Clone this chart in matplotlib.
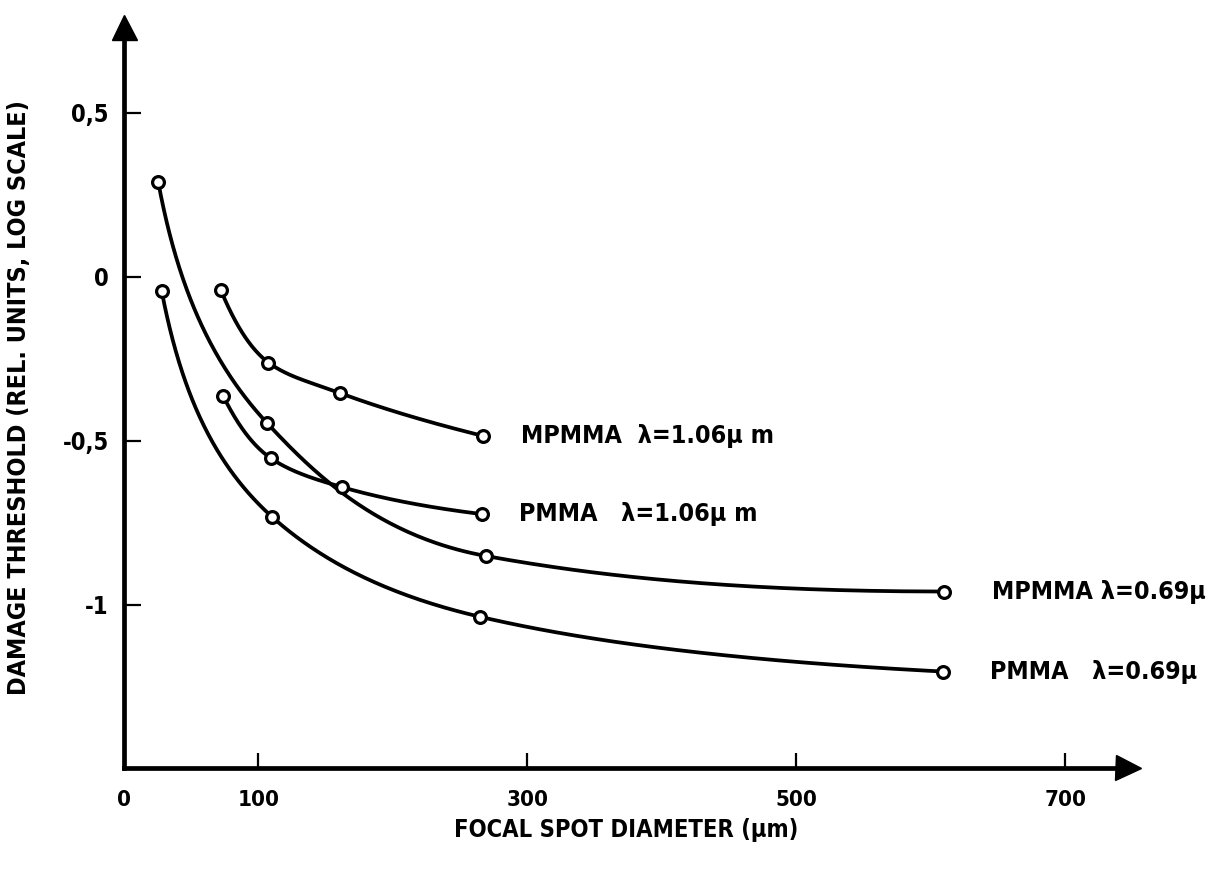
import numpy as np
import matplotlib
matplotlib.use("Agg")
import matplotlib.pyplot as plt

# ---- data ----
x_mpmma_069 = [25.5, 106.5, 269.5, 610.0]
y_mpmma_069 = [0.289, -0.446, -0.851, -0.959]

x_pmma_069 = [28.0, 110.0, 264.7, 609.0]
y_pmma_069 = [-0.042, -0.731, -1.036, -1.203]

x_mpmma_106 = [72.0, 107.4, 160.6, 267.3]
y_mpmma_106 = [-0.040, -0.261, -0.354, -0.485]

x_pmma_106 = [73.8, 109.3, 162.3, 266.0]
y_pmma_106 = [-0.363, -0.553, -0.641, -0.723]

series_labels = ["MPMMA  λ=1.06μ m", "PMMA   λ=1.06μ m",
                 "MPMMA λ=0.69μ", "PMMA   λ=0.69μ"]

x_ticks = [0, 100, 300, 500, 700]
x_ticklabels = ["0", "100", "300", "500", "700"]
y_ticks = [0.5, 0, -0.5, -1]
y_ticklabels = ["0,5", "0", "-0,5", "-1"]

x_label = "FOCAL SPOT DIAMETER (μm)"
y_label = "DAMAGE THRESHOLD (REL. UNITS, LOG SCALE)"


def pchip(x, y, n=300):
    """Smooth monotone cubic curve through the measured points (for drawing)."""
    x = np.asarray(x, float)
    y = np.asarray(y, float)
    h = np.diff(x)
    d = np.diff(y) / h
    m = np.zeros_like(y)
    for k in range(1, len(x) - 1):
        if d[k - 1] * d[k] > 0:
            w1 = 2 * h[k] + h[k - 1]
            w2 = h[k] + 2 * h[k - 1]
            m[k] = (w1 + w2) / (w1 / d[k - 1] + w2 / d[k])
    def end(h0, h1, d0, d1):
        v = ((2 * h0 + h1) * d0 - h0 * d1) / (h0 + h1)
        if np.sign(v) != np.sign(d0):
            v = 0.0
        elif np.sign(d0) != np.sign(d1) and abs(v) > abs(3 * d0):
            v = 3 * d0
        return v
    m[0] = end(h[0], h[1], d[0], d[1])
    m[-1] = end(h[-1], h[-2], d[-1], d[-2])
    xs = np.linspace(x[0], x[-1], n)
    idx = np.clip(np.searchsorted(x, xs) - 1, 0, len(x) - 2)
    t = (xs - x[idx]) / h[idx]
    h00 = 2 * t**3 - 3 * t**2 + 1
    h10 = t**3 - 2 * t**2 + t
    h01 = -2 * t**3 + 3 * t**2
    h11 = t**3 - t**2
    ys = h00 * y[idx] + h10 * h[idx] * m[idx] + h01 * y[idx + 1] + h11 * h[idx] * m[idx + 1]
    return xs, ys


font = dict(family="DejaVu Sans", weight="bold", stretch="condensed")

fig = plt.figure(figsize=(12.25, 8.73), dpi=100)
ax = fig.add_axes([0.1012, 0.1203, 0.8196, 0.8488])

series = [
    (x_mpmma_106, y_mpmma_106, series_labels[0], 27),
    (x_pmma_106, y_pmma_106, series_labels[1], 27),
    (x_mpmma_069, y_mpmma_069, series_labels[2], 34),
    (x_pmma_069, y_pmma_069, series_labels[3], 34),
]
for xs, ys, lab, off in series:
    cx, cy = pchip(np.log(xs), ys)
    ax.plot(np.exp(cx), cy, color="black", lw=2.7, solid_capstyle="round", zorder=2)
    ax.plot(xs, ys, "o", ms=8.5, mfc="white", mec="black", mew=2.3, zorder=3)
    ax.annotate(lab, xy=(xs[-1], ys[-1]), xytext=(off, 0), textcoords="offset points",
                ha="left", va="center", fontsize=18, **font)

ax.set_xlim(0, 746.5)
ax.set_ylim(-1.497, 0.762)

for s in ["top", "right"]:
    ax.spines[s].set_visible(False)
for s in ["left", "bottom"]:
    ax.spines[s].set_linewidth(3.4)

ax.set_xticks(x_ticks)
ax.set_xticklabels(x_ticklabels, fontsize=16, **font)
ax.set_yticks(y_ticks)
ax.set_yticklabels(y_ticklabels, fontsize=17, **font)
ax.tick_params(axis="x", direction="in", length=11, width=1.6, pad=16)
ax.tick_params(axis="y", direction="in", length=12, width=1.6, pad=11)
ax.xaxis.get_major_ticks()[0].tick1line.set_visible(False)

ax.set_xlabel(x_label, fontsize=17, **font)
ax.xaxis.set_label_coords(0.5, -0.084)
ax.xaxis.label.set_va("center")
ax.set_ylabel(y_label, fontsize=18, **font)
ax.yaxis.set_label_coords(-0.105, 0.5)
ax.yaxis.label.set_va("center")

# arrow heads on the axes
ax.plot(1, 0, ">", color="black", ms=18, transform=ax.transAxes, clip_on=False, zorder=5)
ax.plot(0, 1, "^", color="black", ms=18, transform=ax.transAxes, clip_on=False, zorder=5)

fig.savefig("out.png", dpi=100, facecolor="white")
